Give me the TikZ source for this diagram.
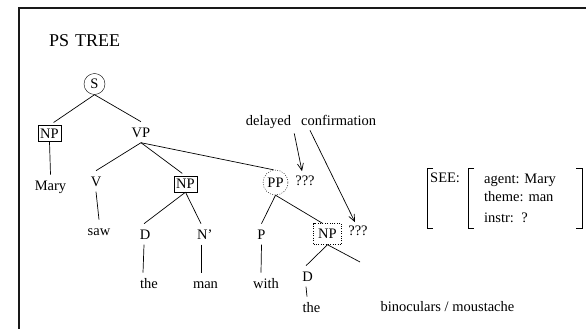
\documentclass[tikz,border=0pt]{standalone}
\usepackage{fontspec}
\setmainfont{Liberation Serif}
\usetikzlibrary{arrows.meta}
\begin{document}
\begin{tikzpicture}[x=1pt,y=-1pt,
  lbl/.style={font=\fontsize{14.5}{17}\selectfont, text height=9.6pt, text depth=0pt,
              inner xsep=0pt, inner ysep=5.5pt, anchor=base},
  plain/.style={font=\fontsize{14.5}{17}\selectfont, inner sep=0pt, anchor=base},
  cat/.style={font=\fontsize{14.5}{17}\selectfont, text height=9.6pt, text depth=0pt, inner sep=0pt},
  boxcat/.style={cat, draw, minimum width=23pt, minimum height=16pt},
  dotbox/.style={cat, draw, dash pattern=on 1pt off 1.4pt, minimum width=28pt, minimum height=21pt},
  dotcirc/.style={cat, draw, circle, dash pattern=on 1pt off 1.4pt, minimum size=25pt},
  solcirc/.style={cat, draw, circle, minimum size=21pt},
  branch/.style={line width=0.7pt},
  note/.style={line width=0.7pt, -{Straight Barb[length=7pt,width=6pt]}},
  brk/.style={line width=0.8pt}
]
\useasboundingbox (0,0) rectangle (586,329);

% frame
\draw[line width=1.3pt, black!90] (586,8) -- (19,8) -- (19,329);

% title
\node[plain, font=\fontsize{18}{21}\selectfont, anchor=base west] (title) at (49,47) {PS\hspace{6pt}TREE};

% tree nodes
\node[solcirc] (S) at (94.5,84) {S};
\node[boxcat] (np1) at (49.5,133.5) {NP};
\node[lbl] (vp) at (141,137) {VP};
\node[lbl] (mary) at (50.5,190) {Mary};
\node[lbl] (v) at (96,186) {V};
\node[lbl] (saw) at (99,235) {saw};
\node[boxcat] (np2) at (185.5,184) {NP};
\node[dotcirc] (pp) at (275.5,182.5) {PP};
\node[plain] (q1) at (305,185) {???};
\node[lbl] (d1) at (145,239) {D};
\node[lbl, anchor=base west] (nbar) at (197,239) {N’};
\node[lbl] (p) at (261.5,239) {P};
\node[lbl] (the1) at (149,288) {the};
\node[lbl] (man) at (205.5,288) {man};
\node[lbl] (with) at (266,288) {with};
\node[dotbox] (np3) at (327.5,234) {NP};
\node[plain] (q2) at (358,235) {???};
\node[lbl] (d2) at (307.5,281) {D};
\node[lbl, anchor=base west] (the2) at (302.5,312) {the};
\node[plain] (noun) at (447.5,311) {binoculars / moustache};
\coordinate (n2) at (360,262);

% branches
\draw[branch, shorten >=5pt] (S.south) -- (np1.north);
\draw[branch] (S.south) -- (vp.north);
\draw[branch] (np1.south) -- (mary.north);
\draw[branch] (vp.south) -- (v.north);
\draw[branch, shorten >=4pt] (vp.south) -- (np2.north);
\draw[branch] (vp.south) -- ([xshift=-2pt]pp.north);
\draw[branch] (v.south) -- (saw.north);
\draw[branch] (np2.south) -- ([xshift=-1pt]d1.north);
\draw[branch] (np2.south) -- ([xshift=4pt]nbar.north west);
\draw[branch] ([xshift=-1pt]d1.south) -- ([xshift=-6pt]the1.north);
\draw[branch] ([xshift=4pt]nbar.south west) -- ([xshift=-4.5pt]man.north);
\draw[branch] (pp.south) -- (p.north);
\draw[branch] (pp.south) -- ([xshift=-5pt]np3.north);
\draw[branch] (p.south) -- ([xshift=-5pt]with.north);
\draw[branch] (np3.south) -- ([xshift=-1.5pt]d2.north);
\draw[branch] (np3.south) -- (n2);
\draw[branch] ([xshift=-1.5pt]d2.south) -- ([xshift=4.5pt]the2.north west);

% annotation
\node[plain] (del) at (268.5,125) {delayed};
\node[plain, anchor=base west] (conf) at (301,125) {confirmation};
\draw[note] ([xshift=3pt,yshift=-5pt]del.south east) -- ([xshift=-3pt,yshift=4pt]q1.north);
\draw[note] ([xshift=9pt,yshift=-5pt]conf.south west) -- ([xshift=-3pt,yshift=3pt]q2.north);

% frame of the verb SEE
\draw[brk] (433,168) -- (427,168) -- (427,228) -- (433,228);
\draw[brk] (474,168) -- (468,168) -- (468,228) -- (474,228);
\draw[brk] (576,168) -- (582,168) -- (582,228) -- (576,228);
\node[plain, anchor=base west] (see) at (430,182) {SEE:};
\node[plain, anchor=base west] (ag) at (484,183) {agent: Mary};
\node[plain, anchor=base west] (th) at (484,201) {theme: man};
\node[plain, anchor=base west] (in) at (484,222) {instr:\ \ ?};
\end{tikzpicture}
\end{document}
